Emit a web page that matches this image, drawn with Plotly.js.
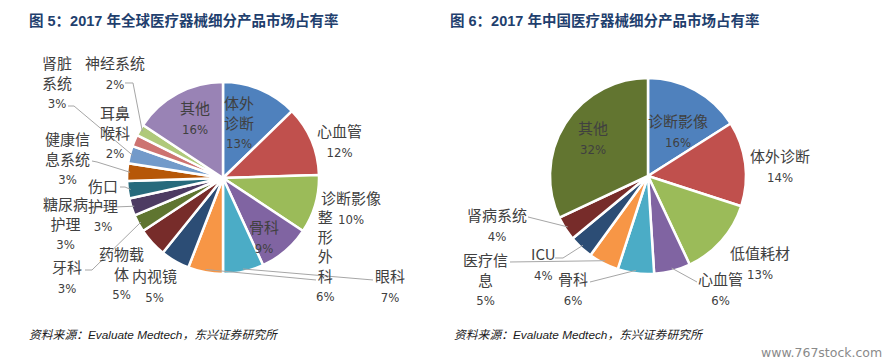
<!DOCTYPE html>
<html>
<head>
<meta charset="utf-8">
<script src="https://cdn.plot.ly/plotly-3.0.1.min.js"></script>
<style>
html,body{margin:0;padding:0;background:#fff;}
#chart{width:893px;height:364px;}
</style>
</head>
<body>
<div id="chart"></div>
<script>
// ---------- data ----------
const globalCategories = ['体外诊断','心血管','诊断影像','骨科','眼科','整形外科','内视镜','药物载体','牙科','糖尿病护理','伤口护理','健康信息系统','肾脏系统','耳鼻喉科','神经系统','其他'];
const globalShares = [13,12,10,9,7,6,5,5,3,3,3,3,3,2,2,16];
const chinaCategories = ['诊断影像','体外诊断','低值耗材','心血管','骨科','医疗信息','ICU','肾病系统','其他'];
const chinaShares = [16,14,13,6,6,5,4,4,32];
const titleLeft = '图 5：2017 年全球医疗器械细分产品市场占有率';
const titleRight = '图 6：2017 年中国医疗器械细分产品市场占有率';
const sourceText = '资料来源：Evaluate Medtech，东兴证券研究所';
const watermark = 'www.767stock.com';

// ---------- styles / layout ----------
const W = 893, H = 364;
const globalColors = ['#4F81BD','#C0504D','#9BBB59','#8064A2','#4BACC6','#F79646','#2C4D75','#772C2A','#5F7530','#4D3B62','#276A7C','#B65708','#729ACA','#CD7371','#AFC97A','#9983B5'];
const chinaColors = ['#4F81BD','#C0504D','#9BBB59','#8064A2','#4BACC6','#F79646','#2C4D75','#772C2A','#627530'];
const leftPie = {cx:223, cy:178, r:96};
const rightPie = {cx:648, cy:176, r:98};
// label block centres (px) and characters per line
const globalLabelPos = [[239,122,2],[339,140,3],[351,207,4],[264,236,2],[390,285,2],[325,255,1],[154,285,3],[122,272,3],[67,276,2],[65,222,3],[103,204,2],[67,157,3],[57,82,2],[115,131,2],[115,72,4],[195,117,2]];
const chinaLabelPos = [[678,130,4],[780,165,4],[760,262,4],[720,288,3],[573,288,2],[485,278,3],[543,263,3],[497,224,4],[593,137,2]];
// leader lines: label-side points; the slice end is computed from the data
const globalLeaders = {12:[[68,106],[74,106]],14:[[125,83],[133,83]],11:[[92,161],[97,162]],10:[[120,187],[125,187]],9:[[88,208]],8:[[85,270],[92,270]],5:[[316,280]],4:[[373,280]]};
const chinaLeaders = {3:[[697,282]],4:[[590,282]],5:[[510,262]],6:[[555,258],[563,258]],7:[[528,217]]};

const px = x => x / W;
const py = y => 1 - y / H;

function domainOf(p){
  return {x:[px(p.cx-p.r), px(p.cx+p.r)], y:[py(p.cy+p.r), py(p.cy-p.r)]};
}
function pieTrace(labels, values, colors, p){
  return {
    type:'pie', labels:labels, values:values, sort:false, direction:'clockwise', rotation:0,
    marker:{colors:colors, line:{color:'#ffffff', width:2.5}},
    textinfo:'none', hoverinfo:'label+percent', showlegend:false,
    domain:domainOf(p)
  };
}
function midAngle(values, i){
  const tot = values.reduce((a,b)=>a+b,0);
  let s = 0; for(let k=0;k<i;k++) s += values[k];
  return (s + values[i]/2) / tot * 2*Math.PI;
}
function anchor(values, i, p, f){
  const a = midAngle(values, i);
  return [p.cx + p.r*f*Math.sin(a), p.cy - p.r*f*Math.cos(a)];
}
function wrap(s, n){
  const out=[]; for(let i=0;i<s.length;i+=n) out.push(s.slice(i,i+n)); return out;
}
const labelFont = {family:'"Noto Sans CJK SC", "Noto Sans", sans-serif', size:15, color:'#404040'};
const pctStyle = "font-family:'Liberation Sans Narrow','DejaVu Sans Condensed','Liberation Sans',sans-serif;font-size:13px";

const annotations = [];
const shapes = [];
function addLabels(cats, vals, pos){
  cats.forEach((c,i)=>{
    const [x,y,n] = pos[i];
    const txt = wrap(c,n).join('<br>') + '<br><span style="'+pctStyle+'">' + vals[i] + '%</span>';
    annotations.push({xref:'paper', yref:'paper', x:px(x), y:py(y), text:txt, showarrow:false,
      xanchor:'center', yanchor:'middle', align:'center', font:labelFont});
  });
}
function addLeaders(vals, leaders, p){
  Object.keys(leaders).forEach(k=>{
    const pts = leaders[k].concat([anchor(vals, +k, p, 0.97)]);
    const d = pts.map((q,j)=>(j?'L':'M')+px(q[0]).toFixed(5)+','+py(q[1]).toFixed(5)).join(' ');
    shapes.push({type:'path', xref:'paper', yref:'paper', path:d, line:{color:'#A6A6A6', width:1}, layer:'above'});
  });
}
addLabels(globalCategories, globalShares, globalLabelPos);
addLabels(chinaCategories, chinaShares, chinaLabelPos);
addLeaders(globalShares, globalLeaders, leftPie);
addLeaders(chinaShares, chinaLeaders, rightPie);

const titleFont = {family:'"Liberation Sans", "Noto Sans CJK SC", sans-serif', size:14.5, color:'#1F3F6E', weight:'bold'};
annotations.push({xref:'paper', yref:'paper', x:px(27), y:py(20), xanchor:'left', yanchor:'middle', text:titleLeft, showarrow:false, font:titleFont});
annotations.push({xref:'paper', yref:'paper', x:px(448), y:py(20), xanchor:'left', yanchor:'middle', text:titleRight, showarrow:false, font:titleFont});
const srcFont = {family:'"Liberation Sans", "Noto Sans CJK SC", sans-serif', size:11.8, color:'#1a1a1a', style:'italic'};
annotations.push({xref:'paper', yref:'paper', x:px(27), y:py(335), xanchor:'left', yanchor:'middle', text:sourceText, showarrow:false, font:srcFont});
annotations.push({xref:'paper', yref:'paper', x:px(452), y:py(335), xanchor:'left', yanchor:'middle', text:sourceText, showarrow:false, font:srcFont});
annotations.push({xref:'paper', yref:'paper', x:px(884), y:py(352), xanchor:'right', yanchor:'middle', text:watermark, showarrow:false,
  font:{family:'"DejaVu Sans", sans-serif', size:12.5, color:'#8A8A8A'}});

const layout = {
  width:W, height:H, margin:{l:0,r:0,t:0,b:0},
  paper_bgcolor:'#ffffff', plot_bgcolor:'#ffffff',
  showlegend:false, annotations:annotations, shapes:shapes
};
Plotly.newPlot('chart', [pieTrace(globalCategories, globalShares, globalColors, leftPie),
                         pieTrace(chinaCategories, chinaShares, chinaColors, rightPie)], layout, {staticPlot:true, displayModeBar:false});
</script>
</body>
</html>
